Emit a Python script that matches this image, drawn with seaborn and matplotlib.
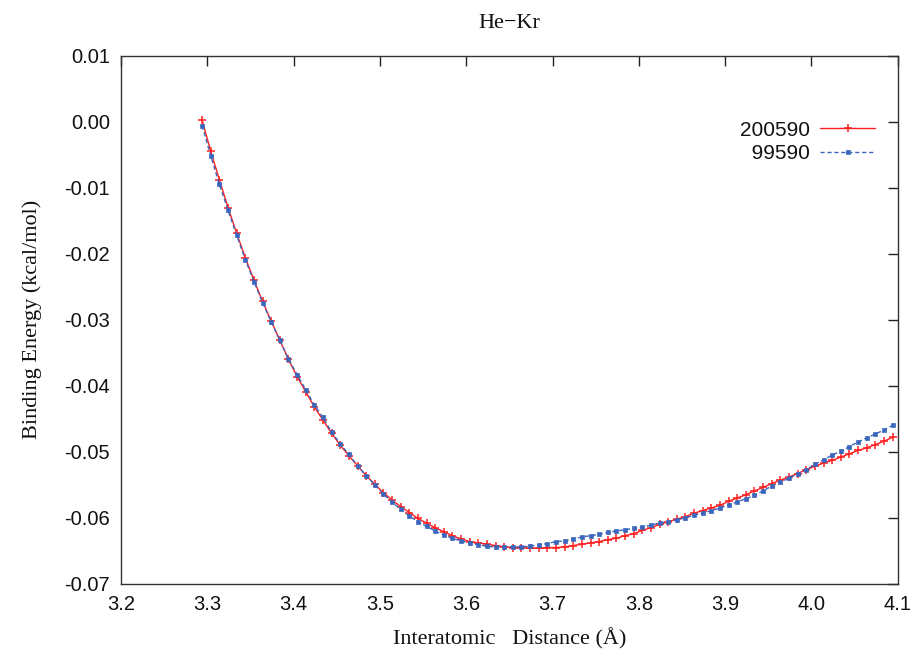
import numpy as np
import pandas as pd
import matplotlib
matplotlib.use("Agg")
import matplotlib.pyplot as plt
import seaborn as sns

distance = [3.294, 3.304, 3.314, 3.324, 3.334, 3.344, 3.354, 3.364, 3.374, 3.384,
            3.394, 3.404, 3.414, 3.424, 3.434, 3.444, 3.454, 3.464, 3.474, 3.484,
            3.494, 3.504, 3.514, 3.524, 3.534, 3.544, 3.554, 3.564, 3.574, 3.584,
            3.594, 3.604, 3.614, 3.624, 3.634, 3.644, 3.654, 3.664, 3.674, 3.684,
            3.694, 3.704, 3.714, 3.724, 3.734, 3.744, 3.754, 3.764, 3.774, 3.784,
            3.794, 3.804, 3.814, 3.824, 3.834, 3.844, 3.854, 3.864, 3.874, 3.884,
            3.894, 3.904, 3.914, 3.924, 3.934, 3.944, 3.954, 3.964, 3.974, 3.984,
            3.994, 4.004, 4.014, 4.024, 4.034, 4.044, 4.054, 4.064, 4.074, 4.084,
            4.094]

energy_200590 = [0.0002, -0.0045, -0.0088, -0.0130, -0.0169, -0.0206, -0.0240, -0.0272, -0.0302, -0.0331,
                 -0.0360, -0.0386, -0.0409, -0.0432, -0.0452, -0.0472, -0.0490, -0.0506, -0.0521, -0.0536,
                 -0.0549, -0.0562, -0.0573, -0.0583, -0.0592, -0.0601, -0.0608, -0.0615, -0.0621, -0.0627,
                 -0.0632, -0.0636, -0.0638, -0.0640, -0.0642, -0.0644, -0.0645, -0.0645, -0.0646, -0.0646,
                 -0.0645, -0.0645, -0.0644, -0.0642, -0.0640, -0.0638, -0.0636, -0.0633, -0.0631, -0.0627,
                 -0.0624, -0.0619, -0.0615, -0.0610, -0.0606, -0.0602, -0.0598, -0.0593, -0.0589, -0.0585,
                 -0.0581, -0.0575, -0.0570, -0.0565, -0.0559, -0.0554, -0.0548, -0.0543, -0.0538, -0.0533,
                 -0.0527, -0.0522, -0.0517, -0.0513, -0.0508, -0.0503, -0.0498, -0.0494, -0.0489, -0.0484,
                 -0.0478]

energy_99590 = [-0.0006, -0.0052, -0.0095, -0.0134, -0.0172, -0.0209, -0.0242, -0.0274, -0.0303, -0.0331,
                -0.0359, -0.0383, -0.0406, -0.0429, -0.0448, -0.0470, -0.0488, -0.0504, -0.0521, -0.0536,
                -0.0550, -0.0564, -0.0576, -0.0587, -0.0597, -0.0606, -0.0613, -0.0620, -0.0626, -0.0631,
                -0.0635, -0.0638, -0.0641, -0.0643, -0.0644, -0.0644, -0.0644, -0.0644, -0.0643, -0.0641,
                -0.0639, -0.0636, -0.0635, -0.0632, -0.0629, -0.0627, -0.0625, -0.0622, -0.0620, -0.0618,
                -0.0616, -0.0614, -0.0611, -0.0608, -0.0606, -0.0603, -0.0600, -0.0596, -0.0593, -0.0589,
                -0.0585, -0.0580, -0.0576, -0.0571, -0.0566, -0.0559, -0.0552, -0.0546, -0.0540, -0.0533,
                -0.0527, -0.0519, -0.0512, -0.0505, -0.0499, -0.0492, -0.0485, -0.0479, -0.0473, -0.0467,
                -0.0460]

series_names = ["200590", "99590"]
x_ticks = [3.2, 3.3, 3.4, 3.5, 3.6, 3.7, 3.8, 3.9, 4.0, 4.1]
y_ticks = [0.01, 0.00, -0.01, -0.02, -0.03, -0.04, -0.05, -0.06, -0.07]

sns.set_style("white")
plt.rcParams["axes.unicode_minus"] = False
plt.rcParams["font.family"] = ["Liberation Sans", "DejaVu Sans"]

df = pd.DataFrame({
    "distance": distance * 2,
    "energy": energy_200590 + energy_99590,
    "series": [series_names[0]] * len(distance) + [series_names[1]] * len(distance),
})

fig = plt.figure(figsize=(9.17, 6.56), dpi=100)
ax = fig.add_axes([0.132, 0.110, 0.847, 0.805])

red = "#ff2020"
blue = "#3a66bd"
sns.lineplot(data=df[df.series == series_names[0]], x="distance", y="energy",
             color=red, linewidth=1.0, marker="+", markersize=6,
             markeredgewidth=1.1, markeredgecolor=red, markerfacecolor=red,
             label=series_names[0], ax=ax, sort=False)
sns.lineplot(data=df[df.series == series_names[1]], x="distance", y="energy",
             color=blue, linewidth=1.0, linestyle=(0, (3, 2)), marker="s",
             markersize=3.2, markeredgewidth=0.5, markeredgecolor=blue,
             markerfacecolor=blue, label="\u2007" + series_names[1], ax=ax, sort=False)

ax.set_xlim(3.2, 4.1)
ax.set_ylim(-0.07, 0.01)
ax.set_xticks(x_ticks)
ax.set_xticklabels([f"{v:.1f}" for v in x_ticks])
ax.set_yticks(y_ticks)
ax.set_yticklabels([f"{v:.2f}" if v != 0 else "0.00" for v in y_ticks])

ax.tick_params(direction="in", length=7, width=1, colors="#222222",
               top=True, right=True, labelsize=14.5, pad=8)
for lab in ax.get_xticklabels() + ax.get_yticklabels():
    lab.set_color("#111111")
for sp in ax.spines.values():
    sp.set_color("#333333")
    sp.set_linewidth(1.0)

serif = ["Liberation Serif", "DejaVu Serif"]
ax.set_title("He\u2212Kr", family=serif, fontsize=16, pad=20, color="#111111")
ax.set_xlabel("Interatomic   Distance (Å)", family=serif, fontsize=16, labelpad=10, color="#111111")
ax.set_ylabel("Binding Energy (kcal/mol)", family=serif, fontsize=16, labelpad=16, color="#111111")

leg = ax.legend(loc="upper right", bbox_to_anchor=(0.981, 0.893), frameon=False,
                markerfirst=False, fontsize=15, handlelength=2.6,
                handletextpad=0.5, labelspacing=0.22, borderaxespad=0)
for t in leg.get_texts():
    t.set_color("#111111")

fig.savefig("out.png", dpi=100, facecolor="white")
